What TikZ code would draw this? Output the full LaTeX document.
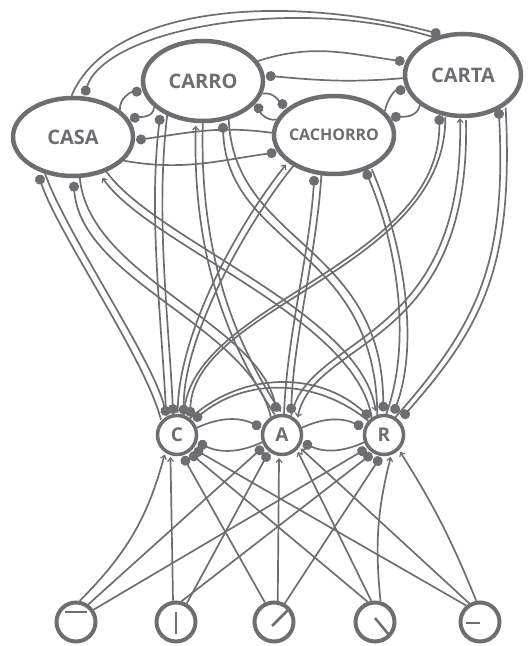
\documentclass[tikz,border=0pt]{standalone}
\usepackage{fontspec}
\setmainfont{Open Sans}
\usetikzlibrary{shapes.geometric,arrows.meta,backgrounds}
\definecolor{ink}{RGB}{109,110,113}
\tikzset{
	link/.style={draw=ink, line width=1.7pt},
	word/.style={ellipse, draw=ink, line width=4.5pt, fill=white, text=ink, minimum width=120pt, minimum height=78pt, inner sep=0pt, font=\bfseries\fontsize{20}{22}\selectfont},
	letter/.style={circle, draw=ink, line width=3.5pt, fill=white, text=ink, minimum size=39pt, inner sep=0pt, font=\bfseries\fontsize{19}{22}\selectfont},
	feat/.style={circle, draw=ink, line width=4pt, fill=white, minimum size=39pt, inner sep=0pt},
	dotl/.style={-{Circle[length=10pt]}, shorten >=1pt},
	dotw/.style={{Circle[length=10pt]}-, shorten <=1pt},
	arrl/.style={-{Straight Barb[length=3.5pt,width=6pt,line width=1.2pt]}, shorten >=2pt},
	arrw/.style={{Straight Barb[length=3.5pt,width=6pt,line width=1.2pt]}-, shorten <=2pt}
}
\begin{document}
\begin{tikzpicture}[x=1pt, y=1pt]
	\useasboundingbox (0,0) rectangle (529,646);
	
	\node[word] (casa) at (73,509) {\makebox[0pt]{CASA}};
	\node[word, minimum height=80pt] (carro) at (203,565) {\makebox[0pt]{CARRO}};
	\node[word, font=\bfseries\fontsize{16}{18}\selectfont] (cach) at (334,511) {\makebox[0pt]{CACHORRO}};
	\node[word, minimum width=116pt, minimum height=82pt] (carta) at (463,571) {\makebox[0pt]{CARTA}};
	
	\foreach \n/\x/\t in {c/177/C, a/282/A, r/384/R}
		\node[letter] (\n) at (\x,211) {\t};
	
	\foreach \n/\x in {f1/76, f2/176, f3/274, f4/375, f5/480}
		\node[feat] (\n) at (\x,24) {};
	
	\foreach \f/\ax/\ay/\bx/\by in {f1/-11/10/11/10, f2/0/-12/0/10, f3/-2/-4/14/12, f4/0/4/14/-13, f5/-14/-1/0/-1}
		\draw[ink, line width=2.5pt] ([shift={(\ax,\ay)}]\f.center) -- ([shift={(\bx,\by)}]\f.center);
	
	\begin{scope}[on background layer]
		% word <-> letter, two lines each
		\foreach \w/\wa/\l/\la/\ca/\cb/\sx/\sy/\mw/\ml in {
			casa/228/c/128/{20,-60}/{-15,60}/3/1.5/dotw/dotl,
			casa/275/a/112/{7,-100}/{-20,91}/3/2.5/dotw/dotl,
			casa/310/r/118/{48,-70}/{-15,102}/2/3/arrw/arrl,
			carro/220/c/110/{-12,-100}/{-5,100}/3.5/0/dotw/dotl,
			carro/265/a/100/{-4,-145}/{-39,60}/3.5/0.5/arrw/arrl,
			carro/300/r/100/{5,-126}/{-1,170}/3/1.5/dotw/dotl,
			cach/214/c/80/{-47,-58}/{0,80}/3/-1.5/arrw/dotl,
			cach/248/a/75/{-5,-80}/{3,80}/3.5/0/dotw/dotl,
			cach/315/r/75/{33,-78}/{26,70}/3.5/0/dotw/dotl,
			carta/243/c/62/{1,-152}/{4,112}/3/-1.5/dotw/dotl,
			carta/270/a/55/{5,-230}/{17,83}/3/-2/arrw/arrl,
			carta/320/r/50/{8,-157}/{83,94}/3.5/0/dotw/dotl}
		{
			\draw[link,\mw] ([shift={({0-\sx},{0-\sy})}]\w.\wa) .. controls +(\ca) and +(\cb) .. ([shift={({0-\sx},{0-\sy})}]\l.\la);
			\draw[link,\ml] ([shift={(\sx,\sy)}]\w.\wa) .. controls +(\ca) and +(\cb) .. ([shift={(\sx,\sy)}]\l.\la);
		}
		
		% word <-> word
		\draw[link,dotl] (casa.30) to[out=95,in=180] (carro.190);
		\draw[link,dotl] (carro.208) to[out=-90,in=10] (casa.18);
		\draw[link,dotl] (carro.-12) to[out=10,in=140] (cach.150);
		\draw[link,dotl] (cach.165) to[out=190,in=-70] (carro.-22);
		\draw[link,dotl] (cach.25) to[out=80,in=180] (carta.195);
		\draw[link,dotl] (carta.215) to[out=-100,in=0] (cach.18);
		\draw[link,dotl] (cach.178) to[out=172,in=8] (casa.-3);
		\draw[link,dotl] (casa.-25) to[out=-10,in=188] (cach.197);
		\draw[link,dotl] (carro.20) to[out=18,in=172] (carta.167);
		\draw[link,dotl] (carta.183) to[out=185,in=-5] (carro.5);
		\draw[link,dotl] (casa.92) .. controls +(39,92) and +(-153,41) .. (carta.118);
		\draw[link,dotl] (carta.128) .. controls +(-135,43) and +(22,68) .. (casa.75);
		
		% letter <-> letter
		\draw[link,dotl] (c.20) to[out=25,in=155] (a.160);
		\draw[link,dotl] (a.200) to[out=-155,in=-25] (c.-20);
		\draw[link,dotl] (a.20) to[out=25,in=155] (r.160);
		\draw[link,dotl] (r.200) to[out=-155,in=-25] (a.-20);
		\draw[link,dotl] (c.52) to[out=42,in=138] (r.128);
		\draw[link,dotl] (r.138) to[out=141,in=39] (c.42);
		
		% feature -> letter
		\foreach \f/\fa/\l/\la/\m/\bd in {f1/80/c/236/arrl/-15, f1/55/a/212/dotl/0, f1/35/r/218/dotl/0,
			f2/98/c/252/arrl/0, f2/60/a/232/dotl/0, f2/75/r/238/dotl/0,
			f3/115/c/285/dotl/0, f3/80/a/262/arrl/0, f3/60/r/262/dotl/0,
			f4/110/c/305/dotl/0, f4/100/a/315/arrl/0, f4/75/r/290/arrl/10,
			f5/130/c/320/dotl/0, f5/120/a/325/arrl/0, f5/100/r/315/arrl/-5}
			\draw[link,\m] (\f.\fa) to[bend left=\bd] (\l.\la);
	\end{scope}
\end{tikzpicture}
\end{document}
